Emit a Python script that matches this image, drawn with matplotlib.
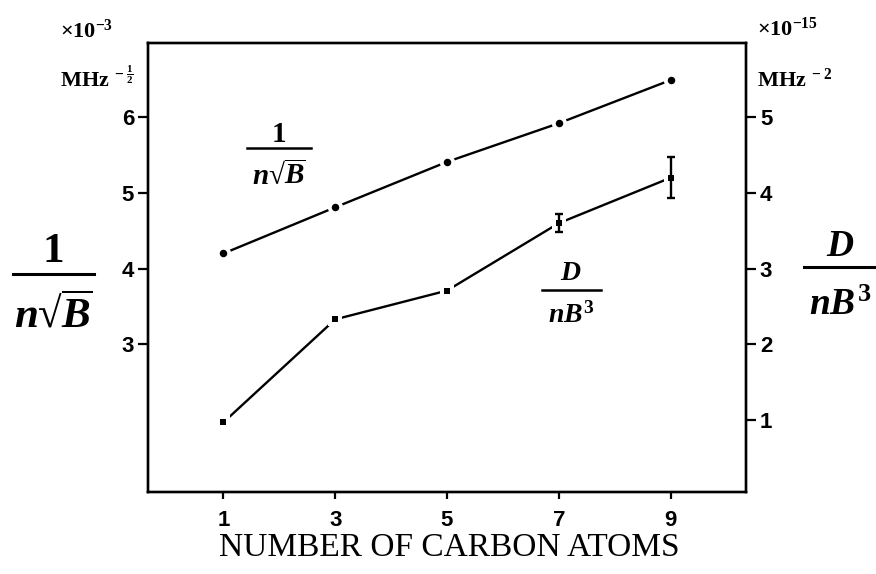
import matplotlib
matplotlib.use('Agg')
import matplotlib.pyplot as plt
from matplotlib.lines import Line2D

# ---- data ----
carbon_atoms = [1, 3, 5, 7, 9]
inv_n_sqrtB = [4.20, 4.81, 5.41, 5.92, 6.49]      # x10^-3 MHz^-1/2 (left axis)
D_nB3 = [0.97, 2.33, 2.71, 3.60, 4.20]            # x10^-15 MHz^-2 (right axis)
D_nB3_err = [0.0, 0.0, 0.0, 0.12, 0.27]
x_ticks = [1, 3, 5, 7, 9]
left_ticks = [3, 4, 5, 6]
right_ticks = [1, 2, 3, 4, 5]

plt.rcParams['mathtext.fontset'] = 'custom'
plt.rcParams['mathtext.rm'] = 'Liberation Serif:bold'
plt.rcParams['mathtext.it'] = 'Liberation Serif:italic:bold'
plt.rcParams['mathtext.bf'] = 'Liberation Serif:bold'

W, H = 876, 574
fig = plt.figure(figsize=(W / 100, H / 100), dpi=100)
ax = fig.add_axes([148 / W, 1 - 492 / H, (746 - 148) / W, (492 - 43) / H])
ax2 = ax.twinx()

tick_font = dict(family='Liberation Sans', weight='bold', size=16)

# upper series (left axis)
ax.plot(carbon_atoms, inv_n_sqrtB, color='black', lw=1.7, zorder=2)
ax.plot(carbon_atoms, inv_n_sqrtB, 'o', color='white', ms=11, mew=0, zorder=3)
ax.plot(carbon_atoms, inv_n_sqrtB, 'o', color='black', ms=5.4, mew=0, zorder=4)

# lower series (right axis)
ax2.plot(carbon_atoms, D_nB3, color='black', lw=1.7, zorder=2)
ax2.plot(carbon_atoms, D_nB3, 's', color='white', ms=10, mew=0, zorder=3)
ax2.plot(carbon_atoms, D_nB3, 's', color='black', ms=4.8, mew=0, zorder=4)
ex = [c for c, e in zip(carbon_atoms, D_nB3_err) if e > 0]
ey = [v for v, e in zip(D_nB3, D_nB3_err) if e > 0]
ee = [e for e in D_nB3_err if e > 0]
ax2.errorbar(ex, ey, yerr=ee, fmt='none', ecolor='black', elinewidth=1.7,
             capsize=2.8, capthick=1.7, zorder=5)

ax.set_xlim(-0.35, 10.35)
ax.set_ylim(1.05, 6.98)
ax2.set_ylim(0.05, 5.98)

ax.set_xticks(x_ticks)
ax.set_xticklabels([str(t) for t in x_ticks], fontdict=tick_font)
ax.set_yticks(left_ticks)
ax.set_yticklabels([str(t) for t in left_ticks], fontdict=tick_font)
ax2.set_yticks(right_ticks)
ax2.set_yticklabels([str(t) for t in right_ticks], fontdict=tick_font)

for a in (ax, ax2):
    for s in a.spines.values():
        s.set_linewidth(1.7)
ax.tick_params(axis='both', direction='out', length=7, width=1.6, pad=3)
ax.tick_params(axis='x', length=5, pad=8)
ax2.tick_params(axis='y', direction='out', length=7, width=1.6, pad=3)


def fpos(x, y):
    return x / W, 1 - y / H


def frac(xc, ybar, num, den, size, barw, num_base, den_base, lw=1.8, den_size=None):
    fig.text(*fpos(xc, num_base), num, fontsize=size, ha='center', va='baseline')
    fig.text(*fpos(xc, den_base), den, fontsize=den_size or size, ha='center', va='baseline')
    x0, y0 = fpos(xc - barw / 2, ybar)
    x1, _ = fpos(xc + barw / 2, ybar)
    fig.add_artist(Line2D([x0, x1], [y0, y0], color='black', lw=lw,
                          transform=fig.transFigure))


# axis annotations (units and multipliers)
fig.text(*fpos(60, 30), r'$\times\mathrm{10}^{-3}$', fontsize=16, ha='left', va='center')
fig.text(*fpos(60, 78), r'$\mathrm{MHz}^{\ -\frac{1}{2}}$', fontsize=16, ha='left', va='center')
fig.text(*fpos(757, 28), r'$\times\mathrm{10}^{-15}$', fontsize=16, ha='left', va='center')
fig.text(*fpos(757, 79), r'$\mathrm{MHz}^{\ -2}$', fontsize=16, ha='left', va='center')

den_sqrt = '$n\u221a\\overline{B}$'

# big axis labels
frac(53, 274, r'$1$', den_sqrt, 31, 81, 262, 328, lw=2.2)
frac(840, 267, r'$D$', r'$nB^3$', 27, 72, 256, 315, lw=2.2)

# in-plot labels
frac(279, 148, r'$1$', den_sqrt, 21, 64, 142, 185)
frac(571, 290, r'$D$', r'$nB^3$', 20, 59, 280, 323)

fig.text(*fpos(449, 548), 'NUMBER OF CARBON ATOMS', fontsize=24,
         family='Liberation Serif', ha='center', va='center')

fig.savefig('out.png', dpi=100)
